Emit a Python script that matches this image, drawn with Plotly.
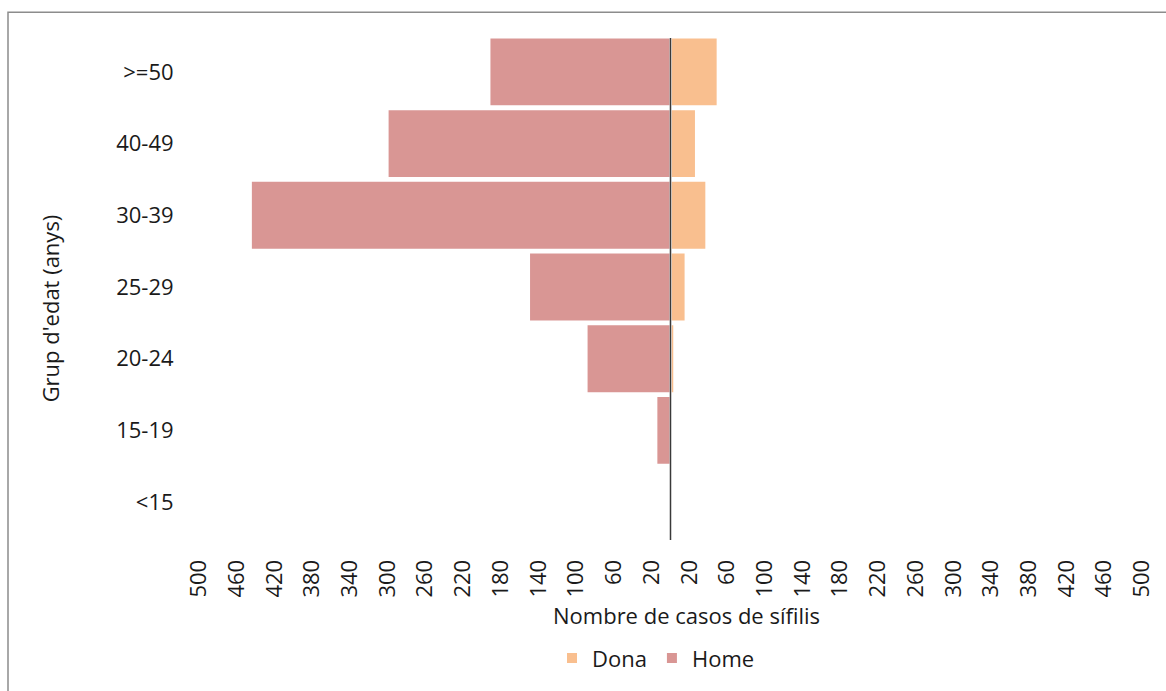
import plotly.graph_objects as go

# Age groups, bottom to top
grups = ["<15", "15-19", "20-24", "25-29", "30-39", "40-49", ">=50"]
home = [0, 15, 89, 150, 445, 300, 192]
dona = [0, 0, 4, 16, 38, 27, 50]

tick_vals = list(range(-500, 0, 40)) + list(range(20, 501, 40))
tick_text = [str(abs(v)) for v in tick_vals]

W, H = 1166, 691
L, R, T, B = 199, 24, 36, 150
pw, ph = W - L - R, H - T - B


def px(x):
    return (x - L) / pw


def py(y):
    return (H - B - y) / ph


FONT = "Open Sans"
TXT = "#1a1a1a"
FS = 22

fig = go.Figure()
fig.add_trace(go.Bar(
    y=grups, x=dona, orientation="h", name="Dona",
    marker=dict(color="#F9BF8F", line=dict(color="white", width=2)),
))
fig.add_trace(go.Bar(
    y=grups, x=[-v for v in home], orientation="h", name="Home",
    marker=dict(color="#D99694", line=dict(color="white", width=2)),
    customdata=home, hovertemplate="%{y}: %{customdata}<extra>Home</extra>",
))

fig.update_layout(
    width=W, height=H, autosize=False,
    margin=dict(l=L, r=R, t=T, b=B),
    paper_bgcolor="white", plot_bgcolor="white",
    barmode="overlay", bargap=0.04,
    font=dict(family=FONT, size=FS, color=TXT),
    xaxis=dict(
        range=[-500, 500], tickvals=tick_vals, ticktext=tick_text,
        tickangle=-90, showgrid=False, zeroline=False, showline=False,
        ticks="outside", ticklen=12, tickcolor="rgba(0,0,0,0)",
        tickfont=dict(size=FS, color=TXT),
    ),
    yaxis=dict(
        categoryorder="array", categoryarray=grups,
        showgrid=False, zeroline=False, showline=False,
        ticks="outside", ticklen=20, tickcolor="rgba(0,0,0,0)",
        tickfont=dict(size=FS, color=TXT),
    ),
    legend=dict(
        orientation="h", x=px(656), y=py(662), xanchor="center", yanchor="middle",
        font=dict(size=FS, color=TXT), traceorder="normal",
    ),
    shapes=[
        dict(type="line", xref="x", yref="paper", x0=0, x1=0, y0=py(38), y1=py(543),
             line=dict(color="#3a3a3a", width=1.5), layer="above"),
        dict(type="rect", xref="paper", yref="paper",
             x0=px(8), x1=px(1175), y0=py(12), y1=py(700),
             line=dict(color="#8c8c8c", width=1.5), layer="below"),
    ],
    annotations=[
        dict(text="Grup d'edat (anys)", xref="paper", yref="paper",
             x=px(50), y=py(310), textangle=-90, showarrow=False,
             xanchor="center", yanchor="middle", font=dict(size=FS, color=TXT)),
        dict(text="Nombre de casos de sífilis", xref="paper", yref="paper",
             x=px(686), y=py(618), showarrow=False,
             xanchor="center", yanchor="middle", font=dict(size=FS, color=TXT)),
    ],
)

fig.write_html("out.html")
